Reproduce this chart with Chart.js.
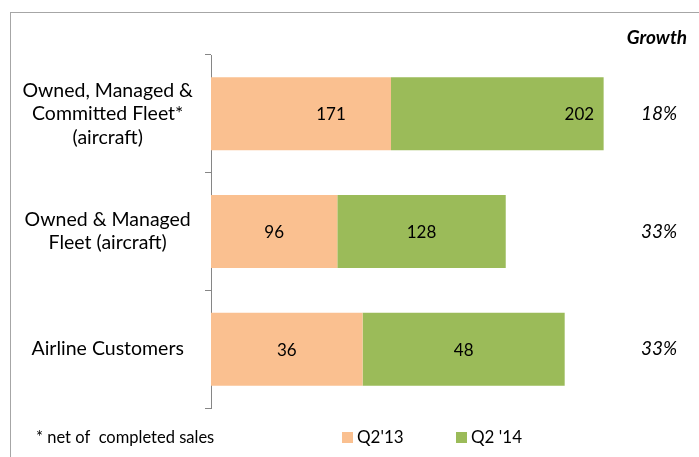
<!DOCTYPE html>
<html>
<head>
<meta charset="utf-8">
<script src="https://cdn.jsdelivr.net/npm/chart.js@4.4.1/dist/chart.umd.min.js"></script>
<style>
  html, body { margin: 0; padding: 0; background: #fff; }
  #wrap { width: 699px; height: 457px; }
</style>
</head>
<body>
<div id="wrap"><canvas id="fleet" width="699" height="457"></canvas></div>
<script>
// ---- data ----
const categories = [
  ['Owned, Managed &', 'Committed Fleet*', '(aircraft)'],
  ['Owned & Managed', 'Fleet (aircraft)'],
  'Airline Customers'
];
const seriesNames = ["Q2'13", "Q2 '14"];
const q213 = [171, 96, 36];
const q214 = [202, 128, 48];
const growthPct = [18, 33, 33];
// each row is drawn on its own value scale in the original
const rowAxisMax = [380, 304, 95];

// ---- styles ----
const FONT = 'Lato, Carlito, Calibri, sans-serif';
const colors = ['#FAC090', '#9BBB59'];
const axisGrey = '#868686';
// the first row's labels sit off-centre in the original
const labelNudge = [[30, 82], [0, 0], [0, 0]];

const datasets = [];
[q213, q214].forEach((vals, s) => {
  vals.forEach((v, r) => {
    datasets.push({
      label: seriesNames[s],
      data: categories.map((_, i) => (i === r ? v : null)),
      xAxisID: 'x' + r,
      backgroundColor: colors[s],
      borderWidth: 0,
      categoryPercentage: 1,
      barPercentage: 0.62,
      row: r,
      series: s
    });
  });
});

const xScales = {};
rowAxisMax.forEach((m, r) => {
  xScales['x' + r] = { type: 'linear', axis: 'x', display: false, stacked: true, min: 0, max: m };
});

const extras = {
  id: 'extras',
  afterDraw(chart) {
    const ctx = chart.ctx;
    const yScale = chart.scales.y;
    ctx.save();

    // value labels inside segments
    ctx.fillStyle = '#000';
    ctx.textAlign = 'center';
    ctx.textBaseline = 'middle';
    ctx.font = '17px ' + FONT;
    chart.data.datasets.forEach((ds, i) => {
      const bar = chart.getDatasetMeta(i).data[ds.row];
      if (!bar) return;
      const cx = (bar.x + bar.base) / 2 + labelNudge[ds.row][ds.series];
      ctx.fillText(String(ds.data[ds.row]), cx, bar.y + 1);
    });

    // growth column
    ctx.font = 'bold italic 19px ' + FONT;
    ctx.fillText('Growth', 657, 38);
    ctx.font = 'italic 19px ' + FONT;
    growthPct.forEach((g, i) => {
      ctx.fillText(g + '%', 659, yScale.getPixelForValue(i));
    });

    // legend
    ctx.textAlign = 'left';
    ctx.font = '17px ' + FONT;
    const legendX = [342, 456];
    seriesNames.forEach((name, s) => {
      ctx.fillStyle = colors[s];
      ctx.fillRect(legendX[s], 432, 11, 11);
      ctx.fillStyle = '#000';
      ctx.fillText(name, legendX[s] + 15, 438);
    });

    // footnote
    ctx.font = '16.5px ' + FONT;
    ctx.fillText('* net of  completed sales', 36, 438);

    // outer frame
    ctx.strokeStyle = '#a6a6a6';
    ctx.lineWidth = 1;
    ctx.strokeRect(10.5, 12.5, 720, 500);
    ctx.restore();
  }
};

new Chart(document.getElementById('fleet'), {
  type: 'bar',
  data: { labels: categories, datasets: datasets },
  options: {
    indexAxis: 'y',
    responsive: false,
    animation: false,
    devicePixelRatio: 1,
    layout: { padding: { top: 55, bottom: 49, left: 10, right: 88 } },
    plugins: {
      legend: { display: false },
      tooltip: { enabled: false }
    },
    scales: Object.assign({
      y: {
        stacked: true,
        offset: true,
        grid: { offset: true, drawOnChartArea: false, tickLength: 6, color: axisGrey },
        border: { color: axisGrey },
        ticks: {
          crossAlign: 'center',
          padding: 12,
          color: '#000',
          font: { family: FONT, size: 19.5, lineHeight: 1.2 }
        },
        afterFit: (s) => { s.width = 201; }
      }
    }, xScales)
  },
  plugins: [extras]
});
</script>
</body>
</html>
